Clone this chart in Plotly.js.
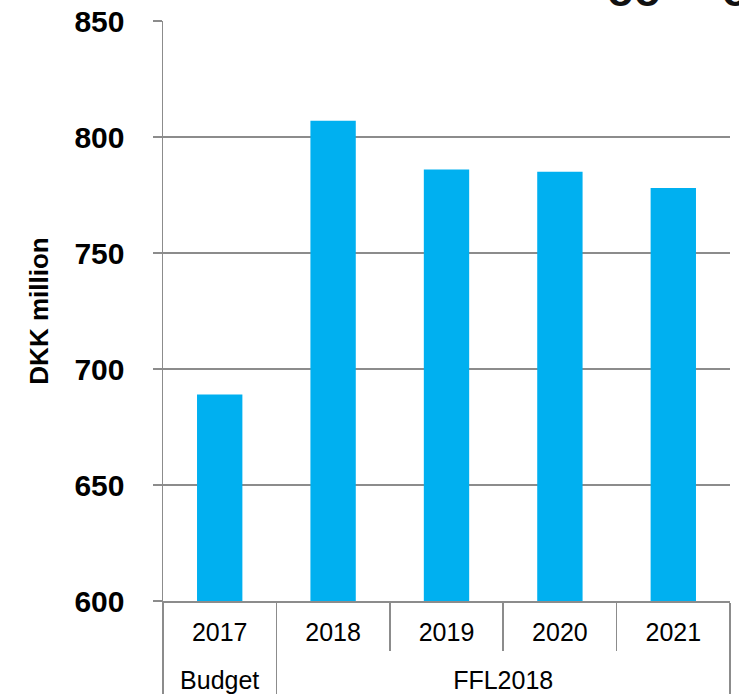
<!DOCTYPE html>
<html>
<head>
<meta charset="utf-8">
<script src="https://cdn.plot.ly/plotly-3.0.1.min.js"></script>
<style>
html,body{margin:0;padding:0;background:#fff;}
#chart{width:739px;height:696px;}
</style>
</head>
<body>
<div id="chart"></div>
<script>
var groups = ["Budget", "FFL2018", "FFL2018", "FFL2018", "FFL2018"];
var years = ["2017", "2018", "2019", "2020", "2021"];
var values = [689, 807, 786, 785, 778];
var yTicks = [600, 650, 700, 750, 800, 850];

var gridColor = "#8c8c8c";
// invisible tall spacers make the first label row taller so the group row sits lower
var pad = "<span style='font-size:49px'>&nbsp;</span>";
var yearLabels = years.map(function (y) { return pad + y + pad; });

var trace = {
  type: "bar",
  x: [groups, yearLabels],
  y: values,
  marker: {color: "#00B0F0", line: {width: 0}},
  hoverinfo: "y"
};

var layout = {
  width: 739,
  height: 696,
  margin: {l: 163, r: 9, t: 21, b: 95, pad: 0},
  paper_bgcolor: "#ffffff",
  plot_bgcolor: "#ffffff",
  font: {family: "Liberation Sans, Arial, sans-serif", color: "#000000"},
  bargap: 0.6,
  showlegend: false,
  xaxis: {
    type: "multicategory",
    showline: true,
    linecolor: gridColor,
    linewidth: 1.5,
    ticks: "outside",
    tickson: "boundaries",
    ticklen: 48,
    tickcolor: gridColor,
    tickwidth: 1.5,
    ticklabelstandoff: 8,
    showdividers: true,
    dividercolor: gridColor,
    dividerwidth: 1.5,
    tickfont: {size: 25, color: "#000000"},
    showgrid: false,
    fixedrange: true
  },
  yaxis: {
    range: [600, 850],
    tickvals: yTicks,
    ticktext: yTicks.map(String),
    showgrid: true,
    gridcolor: gridColor,
    gridwidth: 1.5,
    zeroline: false,
    showline: true,
    linecolor: gridColor,
    linewidth: 1.5,
    ticks: "outside",
    ticklen: 9,
    tickcolor: gridColor,
    tickwidth: 1.5,
    ticklabelstandoff: 22,
    tickfont: {size: 30, weight: "bold", color: "#000000"},
    title: {text: "DKK million", font: {size: 26, weight: "bold", color: "#000000"}, standoff: 18},
    fixedrange: true
  },
  annotations: [{
    xref: "paper", yref: "paper",
    x: 0.78, y: 1,
    yshift: 4,
    xanchor: "left", yanchor: "bottom",
    text: "<b>oo&nbsp;&nbsp;&nbsp;&nbsp;&nbsp;o</b>",
    showarrow: false,
    font: {size: 44, color: "#111111", family: "Liberation Sans, Arial, sans-serif"}
  }]
};

Plotly.newPlot("chart", [trace], layout, {displayModeBar: false, staticPlot: true});
</script>
</body>
</html>
